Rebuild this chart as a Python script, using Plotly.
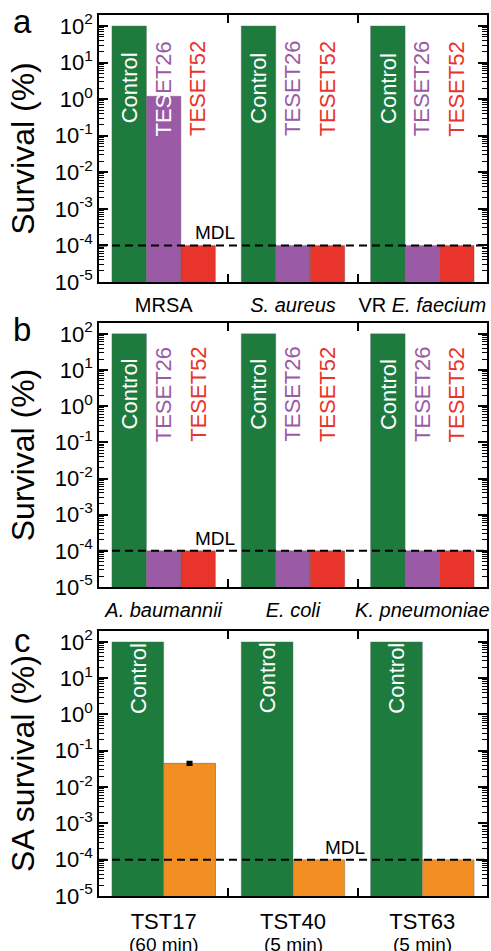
import plotly.graph_objects as go
import math

# ---------------- data ----------------
groups_a = ["MRSA", "S. aureus", "VR E. faecium"]
ticks_a = ["MRSA", "<i>S. aureus</i>", "VR <i>E. faecium</i>"]
control_a = [100, 100, 100]
teset26_a = [1.2, 1e-4, 1e-4]
teset52_a = [1e-4, 1e-4, 1e-4]

groups_b = ["A. baumannii", "E. coli", "K. pneumoniae"]
ticks_b = ["<i>A. baumannii</i>", "<i>E. coli</i>", "<i>K. pneumoniae</i>"]
control_b = [100, 100, 100]
teset26_b = [1e-4, 1e-4, 1e-4]
teset52_b = [1e-4, 1e-4, 1e-4]

groups_c = ["TST17", "TST40", "TST63"]
times_c = ["(60 min)", "(5 min)", "(5 min)"]
control_c = [100, 100, 100]
tst_c = [0.045, 1e-4, 1e-4]
# only TST17 has a measured spread
err_group_c = ["TST17"]
err_value_c = [0.045]
err_c = [0.003]

MDL = 1e-4
y_exponents = [-5, -4, -3, -2, -1, 0, 1, 2]
y_ticktext = ["10<sup>%s</sup>" % e for e in y_exponents]

# ---------------- style ----------------
GREEN = "#1d7b3d"
PURPLE = "#9a5aa6"
RED = "#e8342a"
ORANGE = "#f28e22"
FONT = "Liberation Sans, Arial, sans-serif"
outline = dict(color="rgba(90,90,90,0.6)", width=0.6)

fig = go.Figure()

# panel a
fig.add_trace(go.Bar(x=groups_a, y=control_a, marker=dict(color=GREEN, line=outline), xaxis="x", yaxis="y"))
fig.add_trace(go.Bar(x=groups_a, y=teset26_a, marker=dict(color=PURPLE, line=outline), xaxis="x", yaxis="y"))
fig.add_trace(go.Bar(x=groups_a, y=teset52_a, marker=dict(color=RED, line=outline), xaxis="x", yaxis="y"))
# panel b
fig.add_trace(go.Bar(x=groups_b, y=control_b, marker=dict(color=GREEN, line=outline), xaxis="x2", yaxis="y2"))
fig.add_trace(go.Bar(x=groups_b, y=teset26_b, marker=dict(color=PURPLE, line=outline), xaxis="x2", yaxis="y2"))
fig.add_trace(go.Bar(x=groups_b, y=teset52_b, marker=dict(color=RED, line=outline), xaxis="x2", yaxis="y2"))
# panel c
fig.add_trace(go.Bar(x=groups_c, y=control_c, marker=dict(color=GREEN, line=outline),
                     offsetgroup="ctrl", xaxis="x3", yaxis="y3"))
fig.add_trace(go.Bar(x=groups_c, y=tst_c, marker=dict(color=ORANGE, line=outline),
                     offsetgroup="tst", xaxis="x3", yaxis="y3"))
fig.add_trace(go.Bar(x=err_group_c, y=err_value_c, marker=dict(color=ORANGE, line=outline),
                     error_y=dict(type="data", array=err_c, color="black", thickness=3, width=3),
                     offsetgroup="tst", xaxis="x3", yaxis="y3"))

# empty traces so the right-hand tick axes are created
for xa, ya in [("x", "y4"), ("x2", "y5"), ("x3", "y6")]:
    fig.add_trace(go.Scatter(x=[], y=[], xaxis=xa, yaxis=ya, hoverinfo="skip", showlegend=False))

W, H = 491, 951
ml, mr, mt, mb = 99, 4, 15, 55
ph = H - mt - mb

minor_vals = [m * 10.0 ** e for e in range(-5, 2) for m in range(2, 10)]


def dom(top_px, bot_px):
    return [(H - mb - bot_px) / ph, (H - mb - top_px) / ph]


def tick_style():
    return dict(
        type="log", range=[-5, 2.3],
        tickmode="array", tickvals=[10.0 ** e for e in y_exponents], ticktext=y_ticktext,
        ticks="inside", ticklen=9, tickwidth=1.5, tickcolor="black",
        minor=dict(tickmode="array", tickvals=minor_vals, ticks="inside", ticklen=5,
                   tickwidth=1.2, tickcolor="black", showgrid=False),
        showgrid=False, zeroline=False, automargin=False,
    )


def yax(domain, title, anchor):
    d = tick_style()
    d.update(
        domain=domain, anchor=anchor,
        showline=True, linecolor="black", linewidth=1.5, mirror="allticks",
        tickfont=dict(family=FONT, size=22, color="black"),
        title=dict(text=title, font=dict(family=FONT, size=32, color="black"), standoff=10),
    )
    return d


def yax_right(overlay, anchor):
    d = tick_style()
    d.update(overlaying=overlay, anchor=anchor, side="right", showticklabels=False, showline=False)
    return d


def xax(domain_anchor, cats, labels, size, standoff):
    return dict(
        domain=[0, 1], anchor=domain_anchor, type="category",
        categoryorder="array", categoryarray=cats,
        tickmode="array", tickvals=cats, ticktext=labels, tickangle=0,
        tickson="boundaries", ticks="inside", ticklen=8, tickwidth=1.5, tickcolor="black",
        showline=True, linecolor="black", linewidth=1.5, mirror="ticks",
        showgrid=False, range=[-0.5, 2.5], automargin=False,
        tickfont=dict(family=FONT, size=size, color="black"),
        ticklabelstandoff=standoff,
    )


fig.update_layout(
    width=W, height=H,
    margin=dict(l=ml, r=mr, t=mt, b=mb, autoexpand=False),
    paper_bgcolor="white", plot_bgcolor="white",
    barmode="group", bargap=0.2, bargroupgap=0,
    showlegend=False,
    font=dict(family=FONT, color="black"),
    xaxis=xax("y", groups_a, ticks_a, 20, 4),
    yaxis=yax(dom(15, 282), "Survival (%)", "x"),
    xaxis2=xax("y2", groups_b, ticks_b, 20, 4),
    yaxis2=yax(dom(323, 587), "Survival (%)", "x2"),
    xaxis3=xax("y3", groups_c, groups_c, 22, 5),
    yaxis3=yax(dom(631, 896), "SA survival (%)", "x3"),
    yaxis4=yax_right("y", "x"),
    yaxis5=yax_right("y2", "x2"),
    yaxis6=yax_right("y3", "x3"),
)

anns = []


def bar_label(xref, yref, x, ylog, text, color):
    anns.append(dict(xref=xref, yref=yref, x=x, y=ylog, text=text, textangle=-90,
                     showarrow=False, xanchor="center", yanchor="middle",
                     font=dict(family=FONT, size=22, color=color)))


w3 = 0.8 / 3
for i in range(3):
    bar_label("x", "y", i - w3, 0.3, "Control", "white")
    if teset26_a[i] > 0.5:
        bar_label("x", "y", i, 0.28, "<span style='color:white'>TES</span>ET26", PURPLE)
    else:
        bar_label("x", "y", i, 0.28, "TESET26", PURPLE)
    bar_label("x", "y", i + w3, 0.28, "TESET52", RED)
    bar_label("x2", "y2", i - w3, 0.33, "Control", "white")
    bar_label("x2", "y2", i, 0.32, "TESET26", PURPLE)
    bar_label("x2", "y2", i + w3, 0.32, "TESET52", RED)
    bar_label("x3", "y3", i - 0.2, 1.0, "Control", "white")
    # exposure time under each treatment name
    anns.append(dict(xref="x3", yref="paper", x=i, y=(H - mb - 944) / ph, text=times_c[i],
                     showarrow=False, xanchor="center", yanchor="middle",
                     font=dict(family=FONT, size=19, color="black")))

# MDL labels
for xr, yr, xpos in [("x", "y", 0.4), ("x2", "y2", 0.4), ("x3", "y3", 1.4)]:
    anns.append(dict(xref=xr, yref=yr, x=xpos, y=math.log10(MDL), text="MDL", showarrow=False,
                     xanchor="center", yanchor="bottom", yshift=0,
                     font=dict(family=FONT, size=19, color="black")))

# panel letters
for letter, ypx in [("a", 22), ("b", 330), ("c", 640)]:
    anns.append(dict(xref="paper", yref="paper", x=(22 - ml) / (W - ml - mr),
                     y=(H - mb - ypx) / ph, text=letter, showarrow=False,
                     xanchor="center", yanchor="middle",
                     font=dict(family=FONT, size=33, color="black")))

fig.update_layout(annotations=anns)

shapes = []
for xr, yr in [("x", "y"), ("x2", "y2"), ("x3", "y3")]:
    shapes.append(dict(type="line", xref=xr + " domain", yref=yr, x0=0, x1=1,
                       y0=MDL, y1=MDL, layer="above",
                       line=dict(color="black", width=2, dash="8px,5px")))
fig.update_layout(shapes=shapes)

fig.write_html("out.html", config={"displayModeBar": False},
               post_script="document.body.style.margin='0';document.body.style.overflow='hidden';")
